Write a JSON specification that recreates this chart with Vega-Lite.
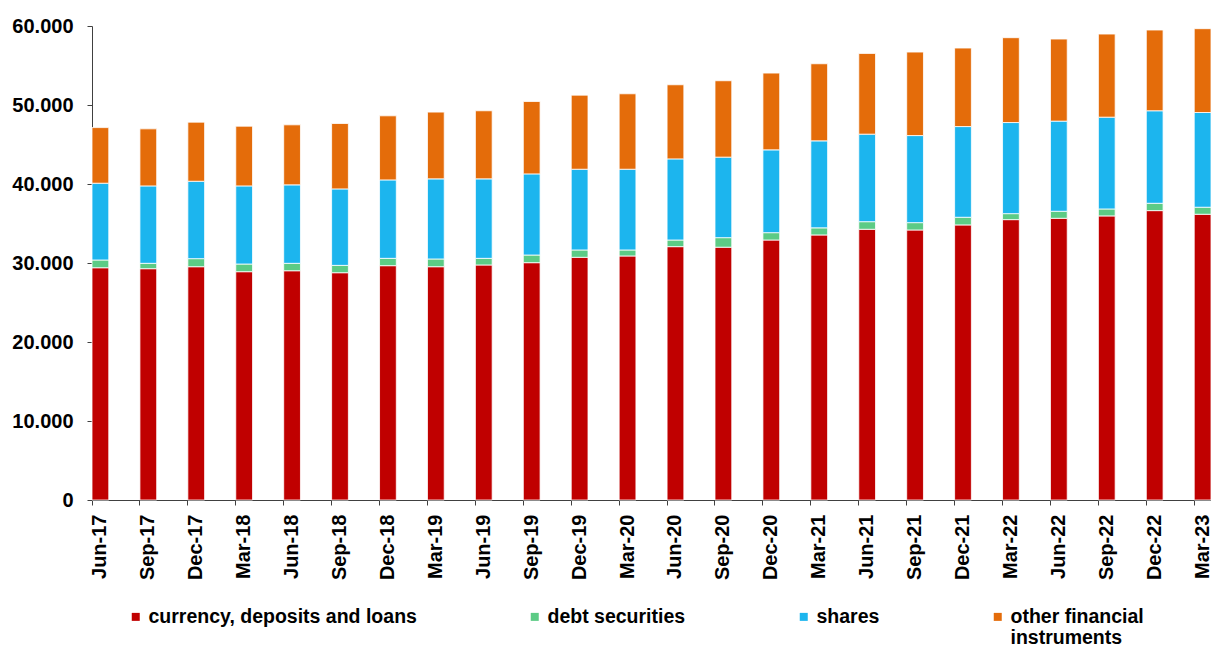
{
  "$schema": "https://vega.github.io/schema/vega-lite/v6.json",
  "width": 1119,
  "height": 474,
  "autosize": {"type": "none"},
  "padding": {"left": 92, "top": 26, "right": 0, "bottom": 146},
  "background": "white",
  "datasets": {
    "wide": [
      {"q": "Jun-17", "cur": 29400, "debt": 980, "shares": 9720, "other": 7040},
      {"q": "Sep-17", "cur": 29280, "debt": 680, "shares": 9800, "other": 7220},
      {"q": "Dec-17", "cur": 29530, "debt": 1020, "shares": 9800, "other": 7480},
      {"q": "Mar-18", "cur": 28900, "debt": 970, "shares": 9890, "other": 7560},
      {"q": "Jun-18", "cur": 29020, "debt": 940, "shares": 9930, "other": 7600},
      {"q": "Sep-18", "cur": 28770, "debt": 930, "shares": 9680, "other": 8280},
      {"q": "Dec-18", "cur": 29660, "debt": 930, "shares": 9930, "other": 8110},
      {"q": "Mar-19", "cur": 29530, "debt": 980, "shares": 10140, "other": 8450},
      {"q": "Jun-19", "cur": 29750, "debt": 840, "shares": 10060, "other": 8620},
      {"q": "Sep-19", "cur": 30040, "debt": 970, "shares": 10270, "other": 9160},
      {"q": "Dec-19", "cur": 30720, "debt": 930, "shares": 10220, "other": 9380},
      {"q": "Mar-20", "cur": 30890, "debt": 760, "shares": 10220, "other": 9550},
      {"q": "Jun-20", "cur": 32070, "debt": 840, "shares": 10270, "other": 9380},
      {"q": "Sep-20", "cur": 32000, "debt": 1210, "shares": 10190, "other": 9670},
      {"q": "Dec-20", "cur": 32910, "debt": 930, "shares": 10480, "other": 9720},
      {"q": "Mar-21", "cur": 33550, "debt": 900, "shares": 11010, "other": 9760},
      {"q": "Jun-21", "cur": 34270, "debt": 960, "shares": 11080, "other": 10220},
      {"q": "Sep-21", "cur": 34180, "debt": 930, "shares": 11020, "other": 10570},
      {"q": "Dec-21", "cur": 34820, "debt": 970, "shares": 11480, "other": 9940},
      {"q": "Mar-22", "cur": 35490, "debt": 760, "shares": 11530, "other": 10740},
      {"q": "Jun-22", "cur": 35660, "debt": 890, "shares": 11410, "other": 10390},
      {"q": "Sep-22", "cur": 35960, "debt": 880, "shares": 11620, "other": 10520},
      {"q": "Dec-22", "cur": 36630, "debt": 930, "shares": 11710, "other": 10220},
      {"q": "Mar-23", "cur": 36170, "debt": 890, "shares": 11990, "other": 10610}
    ],
    "series": [
      {"key": "cur", "name": "currency, deposits and loans", "k": 1},
      {"key": "debt", "name": "debt securities", "k": 2},
      {"key": "shares", "name": "shares", "k": 3},
      {"key": "other", "name": "other financial instruments", "k": 4}
    ]
  },
  "data": {"name": "wide"},
  "transform": [
    {"fold": ["cur", "debt", "shares", "other"], "as": ["key", "v"]},
    {"lookup": "key", "from": {"data": {"name": "series"}, "key": "key", "fields": ["name", "k"]}}
  ],
  "mark": {"type": "bar", "stroke": "white", "strokeWidth": 0.8},
  "encoding": {
    "x": {
      "field": "q",
      "type": "nominal",
      "sort": null,
      "scale": {"paddingInner": 0.65, "paddingOuter": 0, "align": 0},
      "axis": {
        "title": null,
        "bandPosition": 0,
        "labelAngle": -90,
        "labelAlign": "right",
        "labelBaseline": "middle",
        "labelFont": "Liberation Sans",
        "labelFontWeight": "bold",
        "labelFontSize": 20,
        "labelColor": "black",
        "labelPadding": 9,
        "tickSize": 5,
        "tickColor": "#404040",
        "domainColor": "#404040",
        "labelOverlap": false,
        "labelBound": false,
        "grid": false
      }
    },
    "y": {
      "field": "v",
      "type": "quantitative",
      "stack": "zero",
      "scale": {"domain": [0, 60000], "nice": false},
      "axis": {
        "title": null,
        "values": [0, 10000, 20000, 30000, 40000, 50000, 60000],
        "labelExpr": "replace(format(datum.value, ',d'), ',', '.')",
        "labelFont": "Liberation Sans",
        "labelFontWeight": "bold",
        "labelFontSize": 20,
        "labelColor": "black",
        "labelPadding": 14,
        "tickSize": 5,
        "tickColor": "#404040",
        "domainColor": "#404040",
        "grid": false
      }
    },
    "color": {
      "field": "name",
      "type": "nominal",
      "scale": {
        "domain": ["currency, deposits and loans", "debt securities", "shares", "other financial instruments"],
        "range": ["#C00000", "#5CCB85", "#1CB5EE", "#E46C0A"]
      },
      "legend": {
        "title": null,
        "orient": "none",
        "legendX": 34,
        "legendY": 581,
        "direction": "horizontal",
        "columns": 4,
        "columnPadding": 108,
        "padding": 0,
        "symbolType": "square",
        "symbolSize": 64,
        "symbolStrokeWidth": 0,
        "labelOffset": 3,
        "labelFont": "Liberation Sans",
        "labelFontWeight": "bold",
        "labelFontSize": 19.5,
        "labelColor": "black",
        "labelLimit": 400,
        "labelExpr": "datum.label == 'other financial instruments' ? ['other financial', 'instruments'] : [datum.label, '']"
      }
    },
    "order": {"field": "k", "type": "quantitative", "sort": "ascending"}
  },
  "config": {"view": {"stroke": null}}
}
